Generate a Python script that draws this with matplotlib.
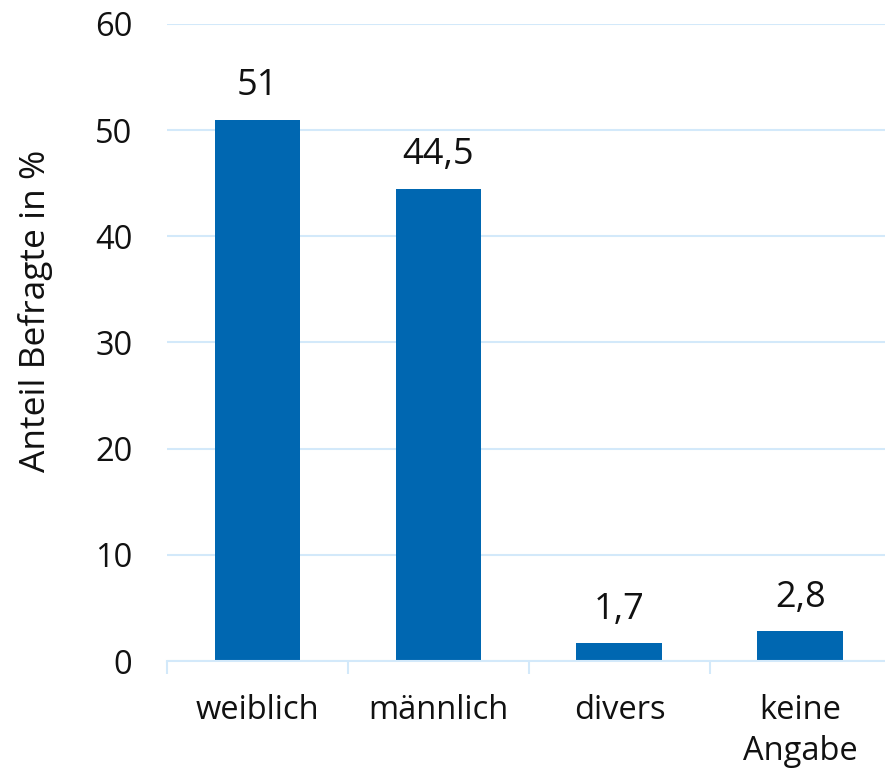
import matplotlib
matplotlib.use("Agg")
import matplotlib.pyplot as plt

categories = ["weiblich", "männlich", "divers", "keine\nAngabe"]
values = [51, 44.5, 1.7, 2.8]
value_labels = ["51", "44,5", "1,7", "2,8"]
yticks = [0, 10, 20, 30, 40, 50, 60]

W, H = 885, 769
plt.rcParams['font.family'] = ['Open Sans', 'DejaVu Sans']
fig = plt.figure(figsize=(W / 100, H / 100), dpi=100)
left, right = 167 / W, 885 / W
bottom, top = (H - 661) / H, (H - 24) / H
ax = fig.add_axes([left, bottom, right - left, top - bottom])

bar_color = "#0067B1"
grid_color = "#D3E9FA"
text_color = "#111111"
x = list(range(len(categories)))
ax.bar(x, values, width=0.475, color=bar_color, zorder=3)

for xi, v, lab in zip(x, values, value_labels):
    ax.annotate(lab, (xi, v), xytext=(0, 17.5), textcoords="offset points",
                ha="center", va="baseline", fontsize=26, color=text_color)

ax.set_yticks(yticks)
ax.set_yticklabels([str(t) for t in yticks], fontsize=23.5, color=text_color)
ax.tick_params(axis="y", length=0, pad=25)
ax.yaxis.grid(True, color=grid_color, linewidth=1.5, zorder=0)
ax.set_axisbelow(True)

ax.set_xticks(x)
ax.set_xticklabels(categories, fontsize=23.5, color=text_color, linespacing=1.3)
ax.tick_params(axis="x", length=0, pad=24)
# category boundary ticks
ax.set_xticks([i - 0.5 for i in range(len(categories) + 1)], minor=True)
ax.tick_params(axis="x", which="minor", length=9, width=1.5, color=grid_color)

ax.set_ylim(0, 60)
ax.set_xlim(-0.5, 3.467)

for s in ["top", "right", "left"]:
    ax.spines[s].set_visible(False)
ax.spines["bottom"].set_color(grid_color)
ax.spines["bottom"].set_linewidth(1.5)
ax.spines["bottom"].set_zorder(4)

fig.text(36 / W, 1 - 311 / H, "Anteil Befragte in %", rotation=90,
         ha="center", va="center", fontsize=25.5, color=text_color)

fig.savefig("out.png", dpi=100)
